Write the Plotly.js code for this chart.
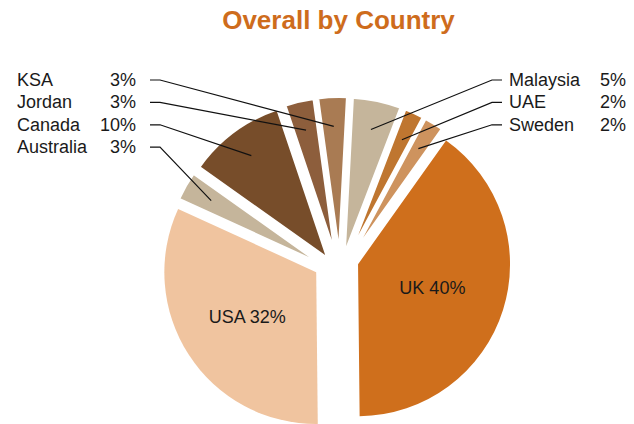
<!DOCTYPE html>
<html>
<head>
<meta charset="utf-8">
<script src="https://cdn.plot.ly/plotly-3.0.1.min.js"></script>
<style>html,body{margin:0;padding:0;background:#fff;overflow:hidden}#chart{width:634px;height:424px}</style>
</head>
<body>
<div id="chart"></div>
<script>
// ---- data ----
const countries = ['Malaysia', 'UAE', 'Sweden', 'UK', 'USA', 'Australia', 'Canada', 'Jordan', 'KSA'];
const shares = [5, 2, 2, 40, 32, 3, 10, 3, 3];
const sliceColors = ['#C5B59B', '#BF7630', '#CE935E', '#CF6F1C', '#F0C49F', '#C5B59B', '#774D2A', '#8D5E3C', '#A97B53'];
const insideLabels = ['UK', 'USA'];
const leftLabels = ['KSA', 'Jordan', 'Canada', 'Australia'];
const rightLabels = ['Malaysia', 'UAE', 'Sweden'];
const chartTitle = 'Overall by Country';

// ---- layout / style constants ----
const W = 634, H = 424;
const ROT = 3;                      // first slice start, degrees clockwise from 12 o'clock
const R_BIG = 152;                  // radius of the two big slices (px)
const R_SMALL = 157;                // radius of the small slices (px)
const SMALL_BASE = [340, 275];      // centre the small slices explode from
const BIG_BASE = [338, 258];        // centre the two big slices explode from
const SMALL_EXPLODE = 20;           // px
const BIG_EXPLODE = {UK: 21, USA: 26};
const STROKE = 3;
const FONT = 'Liberation Sans, Arial, Helvetica, sans-serif';

const total = shares.reduce((a, b) => a + b, 0);
const mids = [];
let cum = 0;
shares.forEach(v => { mids.push((ROT + 360 * (cum + v / 2) / total) * Math.PI / 180); cum += v; });
const unit = a => [Math.sin(a), -Math.cos(a)];

function domainFor(cx, cy, half) {
  return {
    x: [Math.max(0, (cx - half) / W), Math.min(1, (cx + half) / W)],
    y: [Math.max(0, (H - (cy + half)) / H), Math.min(1, (H - (cy - half)) / H)]
  };
}

// apex of every exploded slice
const apex = countries.map((c, i) => {
  const u = unit(mids[i]);
  const big = insideLabels.includes(c);
  const base = big ? BIG_BASE : SMALL_BASE;
  const d = big ? BIG_EXPLODE[c] : SMALL_EXPLODE;
  return [base[0] + d * u[0], base[1] + d * u[1]];
});

// one pie trace per slice, so that each slice can be exploded on its own
const traces = countries.map((c, i) => {
  const big = insideLabels.includes(c);
  const lw = big ? 0 : STROKE;
  const r = big ? R_BIG : R_SMALL;
  const half = Math.min(r + lw / 2, H - apex[i][1]);
  return {
    type: 'pie', labels: countries, values: shares, sort: false, direction: 'clockwise', rotation: ROT,
    marker: {
      colors: countries.map((cc, j) => j === i ? sliceColors[j] : 'rgba(0,0,0,0)'),
      line: {color: '#ffffff', width: countries.map((cc, j) => j === i ? lw : 0)}
    },
    texttemplate: countries.map((cc, j) => (j === i && big) ? '%{label} %{percent:.0%}' : ''),
    textposition: 'inside', insidetextorientation: 'horizontal',
    textfont: {family: FONT, size: 18, color: '#1a1a1a'},
    hoverinfo: 'skip', showlegend: false,
    domain: domainFor(apex[i][0], apex[i][1], half)
  };
});

// outside labels with leader lines
const annotations = [];
const shapes = [];
const px = x => x / W, py = y => 1 - y / H;
const ROW0 = 80, ROWSTEP = 22.4;
function addLabel(name, row, side) {
  const i = countries.indexOf(name);
  const pct = Math.round(shares[i] / total * 100) + '%';
  const y = ROW0 + row * ROWSTEP;
  const txt = {family: FONT, size: 18, color: '#1a1a1a'};
  const nameX = side === 'left' ? 15 : 507;
  const pctX = side === 'left' ? 138 : 628;
  annotations.push({xref: 'paper', yref: 'paper', x: px(nameX), y: py(y), xanchor: 'left', yanchor: 'middle',
    text: name, showarrow: false, font: txt});
  annotations.push({xref: 'paper', yref: 'paper', x: px(pctX), y: py(y), xanchor: 'right', yanchor: 'middle',
    text: pct, showarrow: false, font: txt});
  const u = unit(mids[i]);
  const t = 0.82 * R_SMALL;
  const ax = apex[i][0] + t * u[0], ay = apex[i][1] + t * u[1];
  const x0 = side === 'left' ? 150 : 502, x1 = side === 'left' ? 160 : 492;
  shapes.push({type: 'path', xref: 'paper', yref: 'paper',
    path: `M ${px(x0)} ${py(y)} L ${px(x1)} ${py(y)} L ${px(ax)} ${py(ay)}`,
    line: {color: '#111111', width: 1.2}});
}
leftLabels.forEach((n, k) => addLabel(n, k, 'left'));
rightLabels.forEach((n, k) => addLabel(n, k, 'right'));

const layout = {
  width: W, height: H,
  margin: {l: 0, r: 0, t: 0, b: 0},
  paper_bgcolor: '#ffffff', plot_bgcolor: '#ffffff',
  title: {text: '<b>' + chartTitle + '</b>', x: 338.5 / W, xref: 'paper', xanchor: 'center',
    y: 1 - 19.5 / H, yref: 'container', yanchor: 'middle',
    font: {family: FONT, size: 26, color: '#CE6C1C'}},
  annotations: annotations,
  shapes: shapes,
  showlegend: false
};
Plotly.newPlot('chart', traces, layout, {displayModeBar: false, staticPlot: true});
</script>
</body>
</html>
